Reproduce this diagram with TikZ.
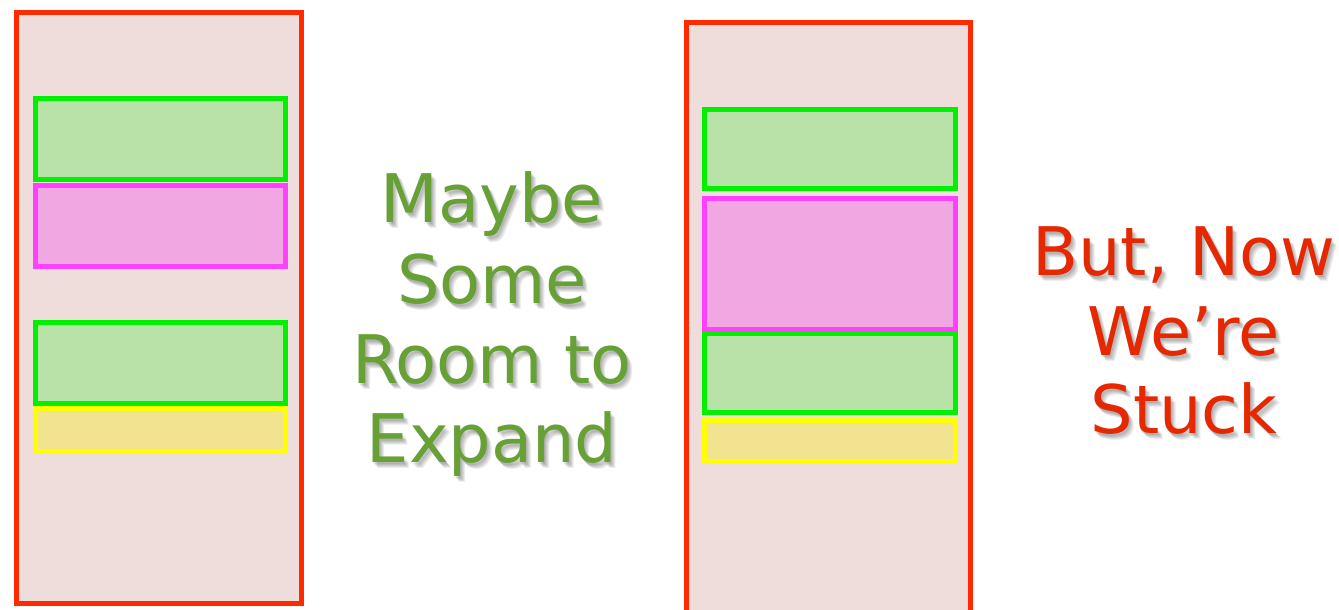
\documentclass[tikz,border=0pt]{standalone}
\usepackage{fontspec}
\setmainfont{DejaVu Sans}
\definecolor{boxred}{HTML}{FF2A00}
\definecolor{boxbg}{HTML}{EEDDDA}
\definecolor{grnline}{HTML}{00F000}
\definecolor{grnfill}{HTML}{B9E2A8}
\definecolor{pnkline}{HTML}{FF40FF}
\definecolor{pnkfill}{HTML}{F1A8E2}
\definecolor{ylwline}{HTML}{FFFF00}
\definecolor{ylwfill}{HTML}{F2E391}
\definecolor{txtgreen}{HTML}{67A035}
\definecolor{txtred}{HTML}{E52800}
\tikzset{
  outerbox/.style={draw=boxred, fill=boxbg, line width=5pt},
  greenbox/.style={draw=grnline, fill=grnfill, line width=5pt},
  pinkbox/.style={draw=pnkline, fill=pnkfill, line width=5pt},
  yellowbox/.style={draw=ylwline, fill=ylwfill, line width=5pt},
  bigtext/.style={font=\fontsize{67}{80}\selectfont, inner sep=0pt, anchor=base},
  shadowtext/.style={bigtext, text=black, text opacity=0.07},
}
\begin{document}
\begin{tikzpicture}[x=1pt,y=-1pt]
\useasboundingbox (0,0) rectangle (1339,610);
\begin{scope}
\clip (0,0) rectangle (1339,610);
% left column
\draw[outerbox] (16,13) rectangle (301,603);
\draw[greenbox] (35,98) rectangle (285,179);
\draw[pinkbox] (35,185) rectangle (285,266);
\draw[greenbox] (35,322) rectangle (285,403);
\draw[yellowbox] (35,408) rectangle (285,451);
% right column
\draw[outerbox] (686,23) rectangle (970,620);
\draw[greenbox] (704,109) rectangle (955,188);
\draw[pinkbox] (704,198) rectangle (955,329);
\draw[greenbox] (704,333) rectangle (955,412);
\draw[yellowbox] (704,420) rectangle (955,461);
\end{scope}
% soft drop shadows of the texts
\foreach \dx/\dy in {2/3,4/5,3/4,5/6,1/2}{
  \node[shadowtext] at (492+\dx,222+\dy) {Maybe};
  \node[shadowtext] at (492+\dx,303+\dy) {Some};
  \node[shadowtext] at (492+\dx,383+\dy) {Room to};
  \node[shadowtext] at (492+\dx,462+\dy) {Expand};
  \node[shadowtext] at (1184+\dx,275+\dy) {But, Now};
  \node[shadowtext] at (1184+\dx,355+\dy) {We’re};
  \node[shadowtext] at (1184+\dx,433+\dy) {Stuck};
}
% texts
\node[bigtext, text=txtgreen] (g1) at (492,222) {Maybe};
\node[bigtext, text=txtgreen] (g2) at (492,303) {Some};
\node[bigtext, text=txtgreen] (g3) at (492,383) {Room to};
\node[bigtext, text=txtgreen] (g4) at (492,462) {Expand};
\node[bigtext, text=txtred] (r1) at (1184,275) {But, Now};
\node[bigtext, text=txtred] (r2) at (1184,355) {We’re};
\node[bigtext, text=txtred] (r3) at (1184,433) {Stuck};
\end{tikzpicture}
\end{document}
